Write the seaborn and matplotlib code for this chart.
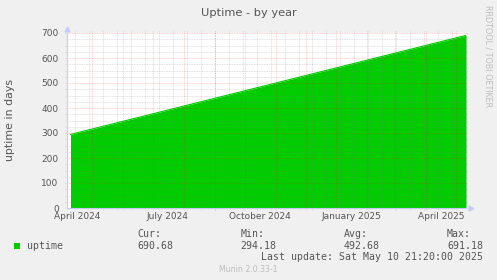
import matplotlib
matplotlib.use("Agg")
import matplotlib.pyplot as plt
import matplotlib.patches as mpatches
import seaborn as sns
import pandas as pd

# ---- data ----
dates = ["2024-04-09 09:20", "2024-07-01 00:00", "2024-10-01 00:00", "2025-01-01 00:00", "2025-04-01 00:00", "2025-05-10 21:20"]
uptime_days = [294.18, 376.8, 468.8, 560.8, 650.8, 690.68]

tick_label_dates = ["2024-04-16", "2024-07-16", "2024-10-16", "2025-01-16", "2025-04-16"]
tick_labels = ["April 2024", "July 2024", "October 2024", "January 2025", "April 2025"]
y_ticks = [0, 100, 200, 300, 400, 500, 600, 700]

stat_names = ["Cur:", "Min:", "Avg:", "Max:"]
stat_values = ["690.68", "294.18", "492.68", "691.18"]
series_name = "uptime"
title = "Uptime - by year"
ylabel = "uptime in days"
last_update = "Last update: Sat May 10 21:20:00 2025"
footer = "Munin 2.0.33-1"
side_text = "RRDTOOL / TOBI OETIKER"

end_time = pd.Timestamp("2025-05-10 21:20")
start_time = end_time - pd.Timedelta(days=400)

df = pd.DataFrame({"date": pd.to_datetime(dates, format="%Y-%m-%d %H:%M"), "uptime": uptime_days})

# ---- figure ----
W, H = 497, 280
BG = "#F0F0F0"
GREEN = "#00CC00"
TXT = "#555555"

sns.set_style("white")
plt.rcParams["font.family"] = ["DejaVu Sans"]

fig = plt.figure(figsize=(W / 100, H / 100), dpi=100, facecolor=BG)

def fx(x):
    return x / W

def fy(y):
    return 1 - y / H

L, R, T, B = 67, 466, 33, 208
ax = fig.add_axes([fx(L), fy(B), (R - L) / W, (B - T) / H])
ax.set_facecolor("white")

ax.fill_between(df["date"], df["uptime"], 0, color=GREEN, linewidth=0, zorder=2)
sns.lineplot(data=df, x="date", y="uptime", ax=ax, color=GREEN, linewidth=0.8, zorder=2)

ax.set_xlim(start_time, end_time)
ax.set_ylim(0, 700)

# grid (drawn over the area like rrdtool)
ext_x = 2 / (R - L)
ext_y = 2 / (B - T)
minor_col = (0.5, 0.5, 0.5, 0.32)
major_col = (1.0, 0.1, 0.1, 0.28)
dot = (0, (1, 1))
for d in pd.date_range("2024-04-14", end_time, freq="14D"):
    ax.axvline(d, ymin=-ext_y, ymax=1 + ext_y, color=minor_col, lw=0.6, ls=dot, zorder=3, clip_on=False)
for d in pd.date_range("2024-05-01", end_time, freq="MS"):
    ax.axvline(d, ymin=-ext_y, ymax=1 + ext_y, color=major_col, lw=0.6, ls=dot, zorder=3, clip_on=False)
for v in range(25, 701, 25):
    if v % 100:
        ax.axhline(v, xmin=-ext_x, xmax=1 + ext_x, color=minor_col, lw=0.6, ls=dot, zorder=3, clip_on=False)
for v in y_ticks[1:]:
    ax.axhline(v, xmin=-ext_x, xmax=1 + ext_x, color=major_col, lw=0.6, ls=dot, zorder=3, clip_on=False)

# ticks / labels
ax.set_xticks(pd.to_datetime(tick_label_dates))
ax.set_xticklabels(tick_labels)
ax.set_yticks(y_ticks)
ax.set_yticklabels([str(v) for v in y_ticks])
ax.tick_params(axis="both", length=0, labelsize=6.5, labelcolor=TXT)
ax.tick_params(axis="x", pad=3)
ax.tick_params(axis="y", pad=6)
ax.set_xlabel("")
ax.set_ylabel("")

for s in ["top", "right"]:
    ax.spines[s].set_visible(False)
AXC = "#C8C8FF"
for s in ["left", "bottom"]:
    ax.spines[s].set_color(AXC)
    ax.spines[s].set_linewidth(0.8)
    ax.spines[s].set_zorder(4)

# axis arrows
ax.plot([0], [1.0 + 4 / (B - T)], marker="^", ms=3.5, color=AXC, transform=ax.transAxes, clip_on=False, zorder=5)
ax.plot([1.0 + 5 / (R - L)], [0], marker=">", ms=3.5, color=AXC, transform=ax.transAxes, clip_on=False, zorder=5)

# texts
fig.text(fx(248.5), fy(13.5), title, ha="center", va="center", fontsize=8.2, color=TXT)
fig.text(fx(10), fy(120), ylabel, ha="center", va="center", rotation=90, fontsize=7.9, color=TXT)
fig.text(fx(488), fy(5), side_text, ha="center", va="top", rotation=270, fontsize=5.8, color="#BDBDBD")

mono = "DejaVu Sans Mono"
fig.patches.append(mpatches.Rectangle((fx(14), fy(248.5)), 6 / W, 6 / H, transform=fig.transFigure,
                                      facecolor=GREEN, edgecolor="none"))
fig.text(fx(27), fy(245.7), series_name, ha="left", va="center", family=mono, fontsize=7.15, color=TXT)
col_x = [137, 240.5, 344, 447]
for cx, nm, val in zip(col_x, stat_names, stat_values):
    fig.text(fx(cx), fy(233.7), nm, ha="left", va="center", family=mono, fontsize=7.15, color=TXT)
    fig.text(fx(cx), fy(245.7), val, ha="left", va="center", family=mono, fontsize=7.15, color=TXT)
fig.text(fx(483), fy(257.5), last_update, ha="right", va="center", family=mono, fontsize=7.15, color=TXT)
fig.text(fx(248.5), fy(269), footer, ha="center", va="center", fontsize=5.6, color="#BDBDBD")

fig.savefig("out.png", dpi=100, facecolor=BG)
